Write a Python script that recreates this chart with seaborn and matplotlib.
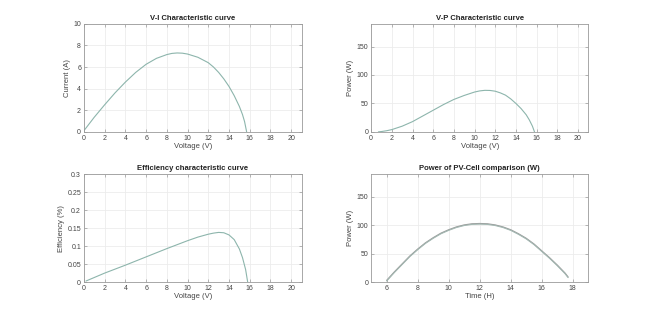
import numpy as np
import pandas as pd
import matplotlib
matplotlib.use("Agg")
import matplotlib.pyplot as plt
import seaborn as sns

# V-I 특성 곡선
vi_voltage = [0, 1, 2, 3, 4, 5, 6, 7, 8, 8.5, 9, 9.5, 10, 11, 12, 12.5, 13, 13.5, 14, 14.5, 15, 15.3, 15.5, 15.7]
vi_current = [0.1, 1.35, 2.5, 3.6, 4.6, 5.5, 6.25, 6.8, 7.15, 7.26, 7.3, 7.28, 7.2, 6.9, 6.4, 6.0, 5.5, 4.9, 4.2, 3.35, 2.35, 1.6, 0.95, 0.0]

# V-P 특성 곡선
vp_voltage = [0.7, 1, 1.5, 2, 3, 4, 5, 6, 7, 8, 9, 10, 10.5, 11, 11.5, 12, 12.5, 13, 13.5, 14, 14.5, 15, 15.3, 15.6, 15.8]
vp_power = [0, 0.6, 2, 4, 10, 18, 28, 38, 48, 57, 64, 70, 72, 73, 72.8, 71.5, 68.5, 64.5, 58, 50, 41, 30, 21, 10, 0]

# 효율 특성 곡선
ef_voltage = [0.2, 2, 4, 6, 8, 10, 11, 12, 12.5, 13, 13.5, 14, 14.5, 15, 15.3, 15.6, 15.8]
ef_value = [0.003, 0.025, 0.047, 0.07, 0.093, 0.115, 0.125, 0.133, 0.136, 0.138, 0.137, 0.131, 0.118, 0.092, 0.068, 0.035, 0.0]

# PV 셀 출력 비교
pv_time = [6, 6.5, 7, 7.5, 8, 8.5, 9, 9.5, 10, 10.5, 11, 11.5, 12, 12.5, 13, 13.5, 14, 14.5, 15, 15.5, 16, 16.5, 17, 17.5, 17.7]
pv_power_a = [3, 18, 32, 46, 58, 69, 78, 86, 92, 97, 100.5, 102.5, 103, 102.5, 100.5, 97, 92, 85, 77, 67, 55, 43, 30, 16, 9]
pv_power_b = [2, 17, 31, 45, 57, 68, 77, 85, 91, 96, 99.5, 101.5, 102, 101.5, 99.5, 96, 91, 84, 76, 66, 54, 42, 29, 15, 8]

sns.set_style("whitegrid")
plt.rcParams["font.family"] = ["Liberation Sans", "DejaVu Sans"]

fig = plt.figure(figsize=(6.5, 3.17), dpi=100)
positions = [
    [0.129, 0.584, 0.335, 0.341],
    [0.571, 0.584, 0.334, 0.341],
    [0.129, 0.110, 0.335, 0.341],
    [0.571, 0.110, 0.334, 0.341],
]
axes = [fig.add_axes(p) for p in positions]
line_color = "#8db5ac"

df_vi = pd.DataFrame({"V": vi_voltage, "I": vi_current})
sns.lineplot(data=df_vi, x="V", y="I", ax=axes[0], color=line_color, lw=0.8)
axes[0].set(xlim=(0, 21), ylim=(0, 10), title="V-I Characteristic curve",
            xlabel="Voltage (V)", ylabel="Current (A)")
axes[0].set_xticks(range(0, 21, 2))
axes[0].set_yticks(range(0, 11, 2))

df_vp = pd.DataFrame({"V": vp_voltage, "P": vp_power})
sns.lineplot(data=df_vp, x="V", y="P", ax=axes[1], color=line_color, lw=0.8)
axes[1].set(xlim=(0, 21), ylim=(0, 190), title="V-P Characteristic curve",
            xlabel="Voltage (V)", ylabel="Power (W)")
axes[1].set_xticks(range(0, 21, 2))
axes[1].set_yticks([0, 50, 100, 150])

df_ef = pd.DataFrame({"V": ef_voltage, "E": ef_value})
sns.lineplot(data=df_ef, x="V", y="E", ax=axes[2], color=line_color, lw=0.8)
axes[2].set(xlim=(0, 21), ylim=(0, 0.3), title="Efficiency characteristic curve",
            xlabel="Voltage (V)", ylabel="Efficiency (%)")
axes[2].set_xticks(range(0, 21, 2))
axes[2].set_yticks([0, 0.05, 0.1, 0.15, 0.2, 0.25, 0.3])
axes[2].set_yticklabels(["0", "0.05", "0.1", "0.15", "0.2", "0.25", "0.3"])

df_pv = pd.DataFrame({"t": pv_time, "a": pv_power_a, "b": pv_power_b})
sns.lineplot(data=df_pv, x="t", y="a", ax=axes[3], color="#9a9a9a", lw=0.9)
sns.lineplot(data=df_pv, x="t", y="b", ax=axes[3], color="#a3b8b2", lw=0.8)
axes[3].set(xlim=(5, 19), ylim=(0, 190), title="Power of PV-Cell comparison (W)",
            xlabel="Time (H)", ylabel="Power (W)")
axes[3].set_xticks(range(6, 19, 2))
axes[3].set_yticks([0, 50, 100, 150])

for ax in axes:
    ax.grid(True, color="#ececec", lw=0.6)
    for s in ax.spines.values():
        s.set_color("#9a9a9a")
        s.set_linewidth(0.6)
    ax.tick_params(direction="in", length=2, width=0.5, color="#9a9a9a",
                   labelsize=5, labelcolor="#444444", pad=2,
                   top=True, right=True, bottom=True, left=True)
    ax.xaxis.label.set_fontsize(5.5)
    ax.yaxis.label.set_fontsize(5.5)
    ax.xaxis.label.set_color("#444444")
    ax.yaxis.label.set_color("#444444")
    ax.xaxis.labelpad = 1
    ax.yaxis.labelpad = 2
    ax.set_title(ax.get_title(), pad=3, fontsize=5.5, fontweight="bold", color="#222222")

fig.savefig("out.png", dpi=100)
